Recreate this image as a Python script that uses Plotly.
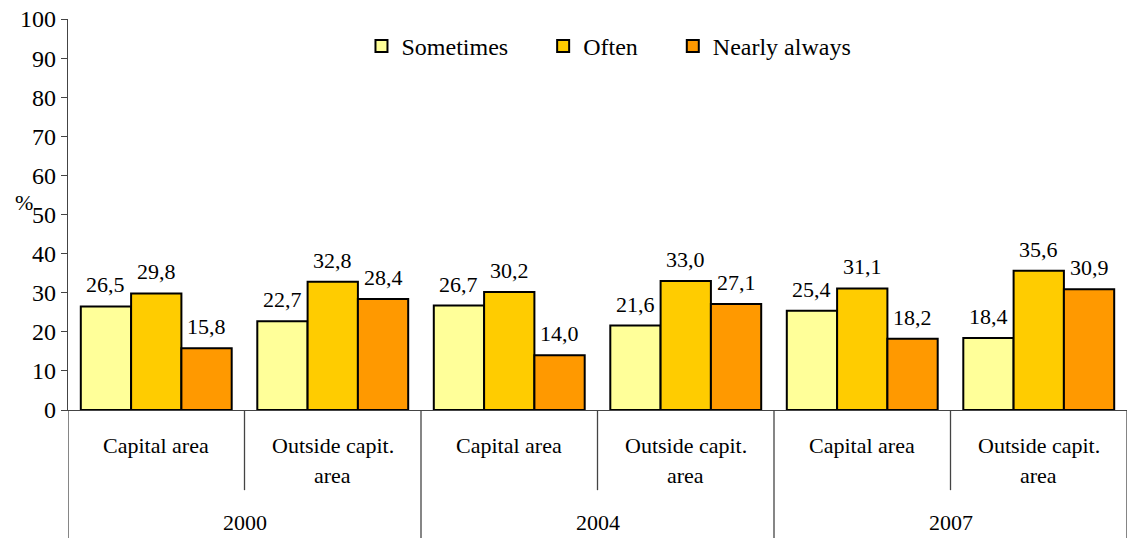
import plotly.graph_objects as go

# data
years = ["2000", "2004", "2007"]
regions = ["Capital area", "Outside capit.<br>area"]
series_names = ["Sometimes", "Often", "Nearly always"]
sometimes = [26.5, 22.7, 26.7, 21.6, 25.4, 18.4]
often = [29.8, 32.8, 30.2, 33.0, 31.1, 35.6]
nearly_always = [15.8, 28.4, 14.0, 27.1, 18.2, 30.9]
y_ticks = list(range(0, 101, 10))

colors = ["#FFFF99", "#FFCC00", "#FF9900"]
FONT = "Liberation Serif"
BARGAP = 0.145

# one slot per (year, region)
slots = list(range(len(years) * len(regions)))
series = [sometimes, often, nearly_always]

fig = go.Figure()
for name, vals, col in zip(series_names, series, colors):
    fig.add_trace(go.Bar(
        x=slots,
        y=vals,
        name=name + "\u00a0" * 5,
        marker=dict(color=col, line=dict(color="black", width=2)),
        cliponaxis=False,
    ))

annotations = []
shapes = []

# value labels, lifted a little above each bar
bar_w = (1 - BARGAP) / len(series)
for k, vals in enumerate(series):
    off = (k - (len(series) - 1) / 2) * bar_w
    for s, v in zip(slots, vals):
        annotations.append(dict(
            x=s + off, y=v, xref="x", yref="y", text=f"{v:.1f}".replace(".", ","),
            showarrow=False, yanchor="bottom", yshift=7,
            font=dict(size=22, family=FONT, color="black"),
        ))

# category labels and dividers under the axis
for i, s in enumerate(slots):
    lines = regions[i % len(regions)].split("<br>")
    for k, line in enumerate(lines):
        annotations.append(dict(
            x=s, y=-0.09, xref="x", yref="paper", text=line, showarrow=False,
            yanchor="middle", yshift=-30 * k,
            font=dict(size=22, family=FONT, color="black"),
        ))
for j, yr in enumerate(years):
    annotations.append(dict(
        x=j * len(regions) + (len(regions) - 1) / 2, y=-0.287, xref="x", yref="paper",
        text=yr, showarrow=False, yanchor="middle",
        font=dict(size=22, family=FONT, color="black"),
    ))
for b in range(len(slots) + 1):
    long = b % len(regions) == 0
    shapes.append(dict(
        type="line", xref="x", yref="paper", x0=b - 0.5, x1=b - 0.5,
        y0=0, y1=-0.33 if long else -0.205,
        line=dict(color="#444444", width=1.3),
    ))

annotations.append(dict(
    x=-0.052, y=53, xref="paper", yref="y", text="%", showarrow=False,
    font=dict(size=22, family=FONT, color="black"),
))

fig.update_layout(
    width=1128, height=538,
    margin=dict(l=68, r=1, t=19, b=128),
    paper_bgcolor="white", plot_bgcolor="white",
    barmode="group", bargap=BARGAP, bargroupgap=0,
    font=dict(family=FONT, color="black"),
    showlegend=True,
    legend=dict(
        orientation="h", x=0.525, xanchor="center", y=0.93, yanchor="middle",
        font=dict(size=24, family=FONT), bgcolor="rgba(0,0,0,0)",
        itemwidth=30, tracegroupgap=0,
    ),
    annotations=annotations,
    shapes=shapes,
)
fig.update_xaxes(
    range=[-0.5, len(slots) - 0.5], showticklabels=False, ticks="",
    showline=True, linecolor="#444444", linewidth=1.3, showgrid=False, zeroline=False,
)
fig.update_yaxes(
    range=[0, 100], tickvals=y_ticks, ticks="outside", ticklen=6, tickcolor="#444444",
    showline=True, linecolor="#444444", linewidth=1.3, showgrid=False, zeroline=False,
    tickfont=dict(size=24, family=FONT, color="black"),
)

# drop the default body margin so the figure sits at the window's corner
fig.write_html("out.html", config={"displayModeBar": False},
               post_script="document.body.style.margin='0';")
